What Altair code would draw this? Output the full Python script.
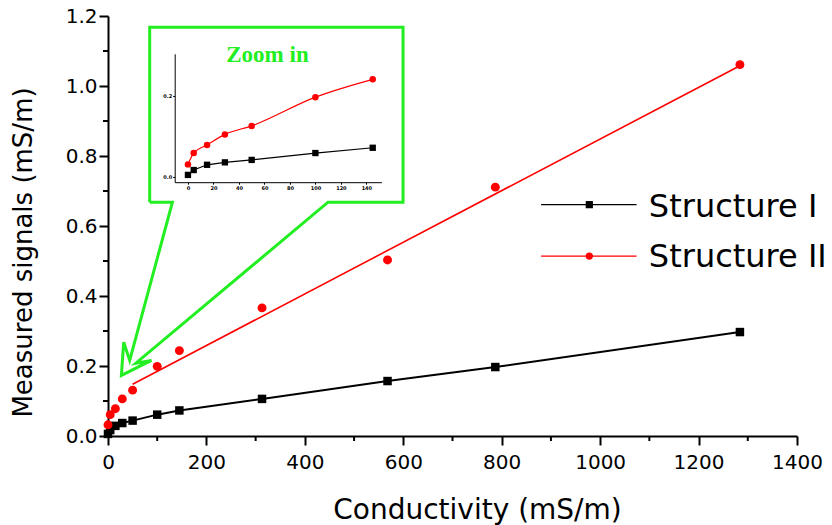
import altair as alt
import pandas as pd

# Measured signal versus solution conductivity for the two sensor structures
conductivity = [0, 4.5, 15, 29, 50, 100, 145, 313, 568, 787, 1284]
signal_i = [0.006, 0.017, 0.029, 0.037, 0.044, 0.061, 0.073, 0.106, 0.157, 0.197, 0.297]
signal_ii = [0.032, 0.061, 0.078, 0.106, 0.131, 0.199, 0.244, 0.366, 0.503, 0.711, 1.061]

# Linear fit for Structure II (50 mS/m upwards)
fit_ii_x = [50, 1284]
fit_ii_y = [0.148, 1.058]

# Close-up of the low-conductivity range
zoom_x = [0, 4.5, 15, 29, 50, 100, 145]
zoom_i = [0.004, 0.016, 0.029, 0.035, 0.041, 0.058, 0.071]
zoom_ii = [0.030, 0.058, 0.078, 0.104, 0.125, 0.196, 0.240]

# Axis tick values
x_major_ticks = list(range(0, 1401, 200))
x_minor_ticks = list(range(100, 1400, 200))
y_major_ticks = [0.0, 0.2, 0.4, 0.6, 0.8, 1.0, 1.2]
y_minor_ticks = [0.1, 0.3, 0.5, 0.7, 0.9, 1.1]

# Callout frame around the close-up, in data units of the main axes
callout_x = [84.7, 84.7, 599.5, 599.5, 447.1, 56.5, 88.2, 27.2, 31.9, 44.1, 130.9, 84.7]
callout_y = [0.668, 1.168, 1.168, 0.668, 0.668, 0.208, 0.216, 0.173, 0.268, 0.216, 0.668, 0.668]

# Hand-drawn legend rows
legend_names = ["Structure I", "Structure II"]
legend_colors = ["#000000", "#ff0000"]
legend_shapes = ["square", "circle"]
legend_row_y = [0.661, 0.514]
legend_text_y = [0.655, 0.511]
legend_line_x = [880, 1074]
legend_mark_x = 978
legend_text_x = 1099

GREEN = "#22ee22"
W, H = 689, 420
X_MAX, Y_MAX = 1400, 1.2
MINOR_PX = 5

main_df = pd.DataFrame({"x": conductivity, "i": signal_i, "ii": signal_ii})
fit_df = pd.DataFrame({"x": fit_ii_x, "y": fit_ii_y})
callout_df = pd.DataFrame({"x": callout_x, "y": callout_y, "o": list(range(len(callout_x)))})
zoom_df = pd.DataFrame({"zx": zoom_x, "i": zoom_i, "ii": zoom_ii})

# minor ticks hang outside the plot by MINOR_PX pixels (converted to data units)
xminor_df = pd.DataFrame({"x": x_minor_ticks, "y": 0.0, "y2": -MINOR_PX * Y_MAX / H})
yminor_df = pd.DataFrame({"y": y_minor_ticks, "x": 0.0, "x2": -MINOR_PX * X_MAX / W})

leg_lines = pd.DataFrame({
    "x": [legend_line_x[0], legend_line_x[1]] * 2,
    "y": [legend_row_y[0]] * 2 + [legend_row_y[1]] * 2,
    "name": [legend_names[0]] * 2 + [legend_names[1]] * 2,
})
leg_marks = pd.DataFrame({"x": [legend_mark_x] * 2, "y": legend_row_y, "name": legend_names})
leg_text = pd.DataFrame({"x": [legend_text_x] * 2, "y": legend_text_y, "name": legend_names})
zoom_label = pd.DataFrame({"x": [324], "y": [1.090], "t": ["Zoom in"]})

x_scale = alt.Scale(domain=[0, X_MAX], nice=False, zero=False)
x_axis = alt.Axis(
    title="Conductivity (mS/m)",
    values=x_major_ticks,
    format="d",
    tickSize=9,
    labelPadding=7,
    titleFontSize=28,
    titleX=369, titleY=74, titleBaseline="middle", titleAlign="center",
)
y_scale = alt.Scale(domain=[0, Y_MAX], nice=False, zero=False)
y_axis = alt.Axis(
    title="Measured signals (mS/m)",
    values=y_major_ticks,
    format=".1f",
    tickSize=9,
    labelPadding=2,
    titleFontSize=26,
    titleAngle=270, titleX=-85, titleY=236, titleBaseline="middle", titleAlign="center",
)


def X(field="x"):
    return alt.X(f"{field}:Q", scale=x_scale, axis=x_axis)


def Y(field="y"):
    return alt.Y(f"{field}:Q", scale=y_scale, axis=y_axis)


xminor = alt.Chart(xminor_df).mark_rule(color="#000000", strokeWidth=2).encode(
    x=X(), y=Y(), y2="y2:Q"
)
yminor = alt.Chart(yminor_df).mark_rule(color="#000000", strokeWidth=2).encode(
    x=X(), x2="x2:Q", y=Y()
)

callout = alt.Chart(callout_df).mark_line(
    color=GREEN, strokeWidth=3, strokeJoin="miter"
).encode(x=X(), y=Y(), order="o:Q")

zoom_text = alt.Chart(zoom_label).mark_text(
    font="Liberation Serif", fontSize=23, fontWeight="bold", color=GREEN,
    align="center", baseline="middle",
).encode(x=X(), y=Y(), text="t:N")

line_i = alt.Chart(main_df).mark_line(color="#000000", strokeWidth=2).encode(x=X(), y=Y("i"))
pts_i = alt.Chart(main_df).mark_point(
    shape="square", filled=True, size=72, color="#000000", opacity=1
).encode(x=X(), y=Y("i"))

fit_ii = alt.Chart(fit_df).mark_line(color="#ff0000", strokeWidth=1.6).encode(x=X(), y=Y())
pts_ii = alt.Chart(main_df).mark_point(
    shape="circle", filled=True, size=80, color="#ff0000", opacity=1
).encode(x=X(), y=Y("ii"))

legend_color = alt.Color("name:N", scale=alt.Scale(domain=legend_names, range=legend_colors), legend=None)
leg_line_layer = alt.Chart(leg_lines).mark_line(strokeWidth=1.4).encode(
    x=X(), y=Y(), color=legend_color, detail="name:N"
)
leg_mark_layer = alt.Chart(leg_marks).mark_point(filled=True, size=52, opacity=1).encode(
    x=X(), y=Y(), color=legend_color,
    shape=alt.Shape("name:N", scale=alt.Scale(domain=legend_names, range=legend_shapes), legend=None),
)
leg_text_layer = alt.Chart(leg_text).mark_text(
    font="DejaVu Sans", fontSize=32, color="#000000", align="left", baseline="middle"
).encode(x=X(), y=Y(), text="name:N")

main = alt.layer(
    xminor, yminor, callout, zoom_text, line_i, fit_ii, pts_i, pts_ii,
    leg_line_layer, leg_mark_layer, leg_text_layer,
)

# Close-up panel drawn with its own scales inside the callout frame
inset_axis = dict(
    title=None, grid=False, domainWidth=1, tickWidth=1, tickSize=2,
    labelFontSize=5, labelFontWeight="bold", labelPadding=1,
    domainColor="#000000", tickColor="#000000", labelColor="#000000",
)
zx_scale = alt.Scale(domain=[-10.4, 151.8], range=[66.7, 273.4], nice=False, zero=False)
zx_axis = alt.Axis(orient="bottom", offset=-253.8, values=list(range(0, 141, 20)), format="d", **inset_axis)
zy_scale = alt.Scale(domain=[-0.014, 0.303], range=[166.2, 37.8], nice=False, zero=False)
zy_axis = alt.Axis(orient="left", offset=-66.7, values=[0, 0.2], format=".1f", **inset_axis)


def ZX():
    return alt.X("zx:Q", scale=zx_scale, axis=zx_axis)


def ZY(field):
    return alt.Y(f"{field}:Q", scale=zy_scale, axis=zy_axis)


zbase = alt.Chart(zoom_df)
inset = alt.layer(
    zbase.mark_line(color="#000000", strokeWidth=1.2).encode(x=ZX(), y=ZY("i")),
    zbase.mark_line(color="#ff0000", strokeWidth=1.2, interpolate="monotone").encode(x=ZX(), y=ZY("ii")),
    zbase.mark_point(shape="square", filled=True, size=40, color="#000000", opacity=1).encode(x=ZX(), y=ZY("i")),
    zbase.mark_point(shape="circle", filled=True, size=42, color="#ff0000", opacity=1).encode(x=ZX(), y=ZY("ii")),
)

chart = alt.layer(main, inset).resolve_scale(
    x="independent", y="independent"
).properties(
    width=W,
    height=H,
    autosize=alt.AutoSizeParams(type="none"),
    padding={"left": 108, "top": 16, "right": 35, "bottom": 89},
    background="white",
).configure_view(
    stroke=None
).configure_axis(
    grid=False,
    domainColor="#000000",
    domainWidth=2,
    tickColor="#000000",
    tickWidth=2,
    labelFont="DejaVu Sans",
    labelFontSize=20,
    labelColor="#000000",
    labelFlush=False,
    labelOverlap=False,
    titleFont="DejaVu Sans",
    titleFontWeight="normal",
    titleColor="#000000",
)

chart.save("out.html", embed_options={"renderer": "svg", "actions": False})
